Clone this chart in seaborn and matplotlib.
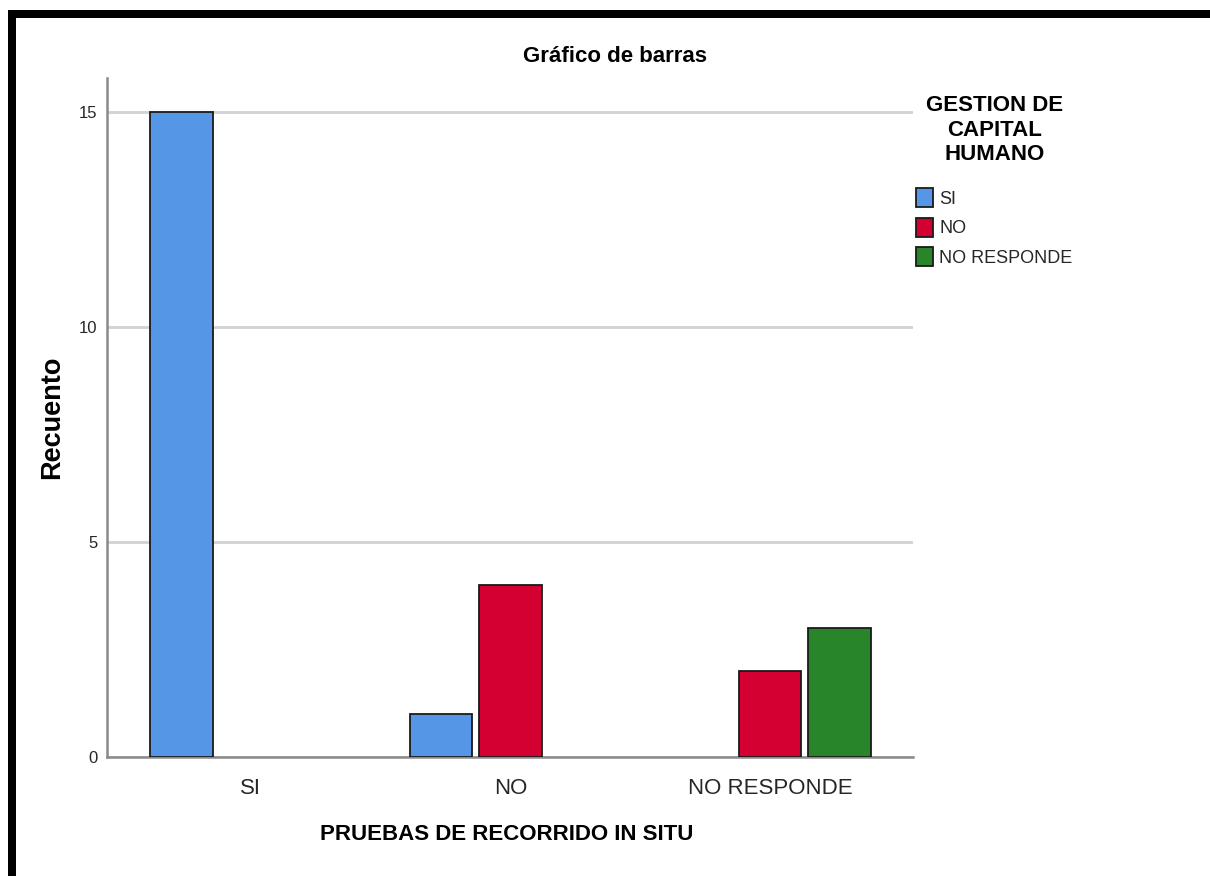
import matplotlib
matplotlib.use("Agg")
import matplotlib.pyplot as plt
from matplotlib.patches import Patch, Rectangle
import pandas as pd
import seaborn as sns

# Counts by route-test answer (x) and human-capital answer (hue)
categories = ["SI", "NO", "NO RESPONDE"]
groups = ["SI", "NO", "NO RESPONDE"]
prueba = ["SI", "NO", "NO", "NO RESPONDE", "NO RESPONDE"]
gestion = ["SI", "SI", "NO", "NO", "NO RESPONDE"]
recuento = [15, 1, 4, 2, 3]
yticks = [0, 5, 10, 15]

colors = ["#5596E6", "#D50032", "#29852A"]
palette = dict(zip(groups, colors))

df = pd.DataFrame({"prueba": prueba, "gestion": gestion, "recuento": recuento})

sns.set_theme(style="white")
plt.rcParams["font.family"] = ["Liberation Sans", "DejaVu Sans"]

W, H = 1210, 876
fig = plt.figure(figsize=(W / 100, H / 100), dpi=100)
fig.patch.set_facecolor("white")
ax = fig.add_axes([107 / W, 1 - 757 / H, (913 - 107) / W, (757 - 78) / H])

sns.barplot(
    data=df, x="prueba", y="recuento", hue="gestion",
    order=categories, hue_order=groups, palette=palette, saturation=1,
    width=0.8, gap=0.1, edgecolor="#1a1a1a", linewidth=1.3,
    legend=False, ax=ax, zorder=3,
)

ax.set_xlim(-0.554, 2.55)
ax.set_ylim(0, 15.79)
ax.set_yticks(yticks)
ax.set_yticklabels([str(v) for v in yticks])
ax.yaxis.grid(True, color="#d2d2d2", linewidth=2, zorder=0)
ax.set_axisbelow(True)

for side in ["top", "right"]:
    ax.spines[side].set_visible(False)
for side in ["left", "bottom"]:
    ax.spines[side].set_color("#8a8a8a")
    ax.spines[side].set_linewidth(1.8)

ax.tick_params(axis="x", length=0, pad=15, labelsize=16, labelcolor="#262626")
ax.tick_params(axis="y", length=0, pad=7, labelsize=12, labelcolor="#262626")

ax.set_xlabel("PRUEBAS DE RECORRIDO IN SITU", fontsize=16, fontweight="bold", color="black")
ax.xaxis.set_label_coords(0.4963, -(834 - 757) / (757 - 78))
ax.xaxis.label.set_va("center")

ax.set_ylabel("Recuento", fontsize=19.5, fontweight="bold", color="black")
ax.yaxis.set_label_coords(-(107 - 52) / (913 - 107), 0.5)
ax.yaxis.label.set_va("center")

fig.text(615 / W, 1 - 57 / H, "Gráfico de barras", ha="center", va="center",
         fontsize=16, fontweight="bold", color="black")

# legend: centred bold title above colour swatches
fig.text(995 / W, 1 - 130 / H, "GESTION DE\nCAPITAL\nHUMANO", ha="center", va="center",
         multialignment="center", fontsize=16, fontweight="bold", color="black",
         linespacing=1.2)
handles = [Patch(facecolor=palette[g], edgecolor="#1a1a1a", linewidth=1.3, label=g) for g in groups]
leg = fig.legend(
    handles=handles, loc="upper left", bbox_to_anchor=(916 / W, 1 - 188 / H),
    frameon=False, fontsize=13,
    handlelength=0.95, handleheight=1.25, handletextpad=0.33,
    labelspacing=0.55, borderpad=0, borderaxespad=0,
)
for t in leg.get_texts():
    t.set_color("#262626")

# black frame band along the top and left edges
fig.add_artist(Rectangle((8 / W, 1 - 18 / H), (W - 8) / W, 8 / H,
                         transform=fig.transFigure, facecolor="black", edgecolor="none"))
fig.add_artist(Rectangle((8 / W, 0), 8 / W, (H - 10) / H,
                         transform=fig.transFigure, facecolor="black", edgecolor="none"))

fig.savefig("out.png", dpi=100, facecolor="white")
